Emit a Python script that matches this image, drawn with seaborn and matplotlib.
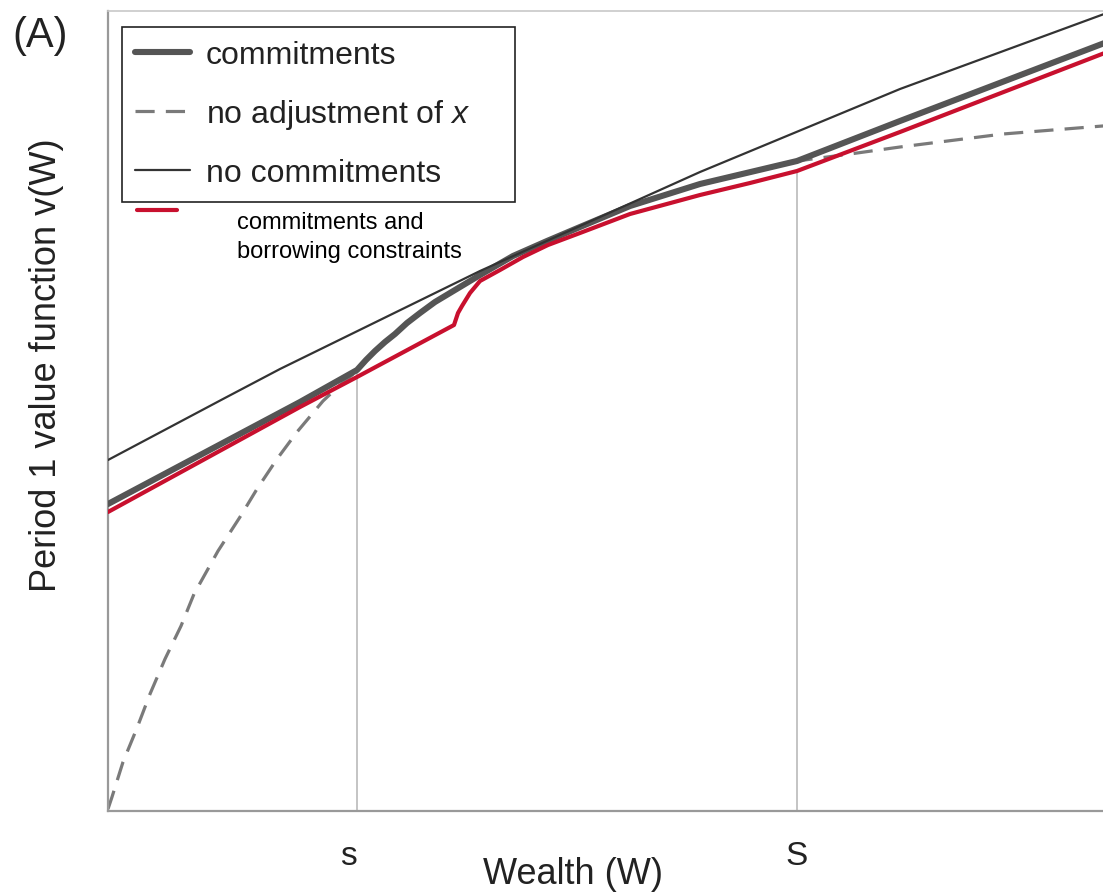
import numpy as np
import pandas as pd
import matplotlib
matplotlib.use("Agg")
import matplotlib.pyplot as plt
import matplotlib.transforms as mtransforms
import seaborn as sns

# wealth axis runs 0..100.7, value axis 0..80 (arbitrary units)
x_nocommit = [0, 11.5, 17.2, 37.2, 59.2, 79.2, 100.7]
y_nocommit = [35.1, 41.2, 44.2, 54.0, 63.9, 72.2, 80.1]

x_commit = [0, 19.2, 24.9, 25.8, 26.7, 27.7, 28.7, 29.9, 31.2, 32.7, 34.2, 35.7, 37.2,
            40.5, 43.9, 47.2, 52.2, 59.2, 68.9, 79.2, 100.7]
y_commit = [30.7, 40.9, 44.1, 45.1, 46.0, 46.9, 47.7, 48.8, 49.8, 50.9, 51.8, 52.7, 53.6,
            55.5, 57.0, 58.4, 60.5, 62.7, 65.0, 69.0, 77.2]

x_noadj = [0, 0.4, 1.5, 2.9, 4.2, 5.7, 7.3, 8.6, 11.0, 13.2, 14.9, 16.9, 18.9, 21.5, 23.2, 24.9,
           26.7, 28.7, 31.2, 34.2, 37.2, 40.5, 43.9, 47.2, 52.2, 59.2, 68.9, 74.2, 79.2, 89.5, 100.7]
y_noadj = [0.2, 1.4, 4.9, 8.3, 11.7, 15.2, 18.5, 21.7, 26.0, 29.4, 32.2, 35.2, 37.9, 41.0, 42.6, 44.0,
           46.0, 47.7, 49.8, 51.8, 53.6, 55.5, 57.0, 58.4, 60.5, 62.7, 65.0, 65.7, 66.4, 67.7, 68.6]

x_borrow = [0, 19.2, 24.9, 34.6, 35.0, 35.4, 36.2, 37.2, 39.2, 41.5, 44.0, 47.2, 52.2,
            59.2, 64.2, 68.9, 79.2, 100.7]
y_borrow = [29.9, 40.4, 43.4, 48.6, 49.8, 50.5, 51.8, 53.0, 54.1, 55.4, 56.6, 57.8, 59.7,
            61.6, 62.8, 64.0, 67.9, 76.2]

thresholds = [24.9, 68.9]
threshold_tops = [44.0, 64.0]
threshold_labels = ["s", "S"]

sns.set_theme(style="white")
plt.rcParams["font.family"] = ["Liberation Sans", "DejaVu Sans"]
plt.rcParams["mathtext.fontset"] = "custom"
plt.rcParams["mathtext.it"] = "Liberation Sans:italic"
plt.rcParams["mathtext.rm"] = "Liberation Sans"

fig = plt.figure(figsize=(11.03, 8.95), dpi=100)
ax = fig.add_axes([108 / 1103, 83 / 895, 1007 / 1103, 800 / 895])

ax.vlines(thresholds, 0, threshold_tops, color="#b4b4b4", lw=1.1, zorder=1)

sns.lineplot(x=x_noadj, y=y_noadj, ax=ax, sort=False, estimator=None, color="#7a7a7a",
             lw=2.3, label="no adjustment of $x$", zorder=2)
ax.lines[-1].set_dashes((6, 3.5))
sns.lineplot(x=x_commit, y=y_commit, ax=ax, sort=False, estimator=None, color="#555555",
             lw=4.4, label="commitments", zorder=3)
sns.lineplot(x=x_nocommit, y=y_nocommit, ax=ax, sort=False, estimator=None, color="#333333",
             lw=1.6, label="no commitments", zorder=4)
sns.lineplot(x=x_borrow, y=y_borrow, ax=ax, sort=False, estimator=None, color="#c8102e",
             lw=3.0, legend=False, zorder=5)

ax.set_xlim(0, 100.7)
ax.set_ylim(0, 80)
ax.set_xticks(thresholds)
ax.set_xticklabels(threshold_labels, fontsize=24, color="#222222")
ax.set_yticks([])
ax.tick_params(axis="x", length=0, pad=21)
# the lower-case "s" sits a little left of its line in the original
small_s = ax.get_xticklabels()[0]
small_s.set_transform(small_s.get_transform() +
                      mtransforms.ScaledTranslation(-9 / 100, 0, fig.dpi_scale_trans))

for side in ["left", "bottom"]:
    ax.spines[side].set_color("#999999")
    ax.spines[side].set_linewidth(1.6)
ax.spines["top"].set_color("#c8c8c8")
ax.spines["top"].set_linewidth(1.2)
ax.spines["right"].set_visible(False)

ax.set_xlabel("Wealth (W)", fontsize=26, color="#222222")
ax.xaxis.set_label_coords(0.4618, -0.056)
ax.set_ylabel("Period 1 value function v(W)", fontsize=26, color="#222222")
ax.yaxis.set_label_coords(-0.044, 0.559)

handles, labels = ax.get_legend_handles_labels()
order = [labels.index(l) for l in ["commitments", "no adjustment of $x$", "no commitments"]]
leg = ax.legend([handles[i] for i in order], [labels[i] for i in order],
                loc="upper left", bbox_to_anchor=(0.0139, 0.769, 0.390, 0.211),
                mode="expand", borderaxespad=0, fontsize=23, frameon=True, fancybox=False,
                edgecolor="#222222", framealpha=1, borderpad=0.42, labelspacing=0.84,
                handlelength=1.7, handletextpad=0.5)
leg.get_frame().set_linewidth(1.2)
for t in leg.get_texts():
    t.set_color("#222222")

# red key sits outside the legend box
ax.plot([0.0288, 0.0685], [0.751, 0.751], transform=ax.transAxes, color="#c8102e",
        lw=3.0, clip_on=False, zorder=6)
ax.text(0.128, 0.7185, "commitments and\nborrowing constraints", transform=ax.transAxes,
        fontsize=17, va="center", ha="left", linespacing=1.4, color="black")

fig.text(12 / 1103, 1 - 16 / 895, "(A)", fontsize=30, va="top", ha="left", color="#222222")

fig.savefig("out.png", dpi=100)
